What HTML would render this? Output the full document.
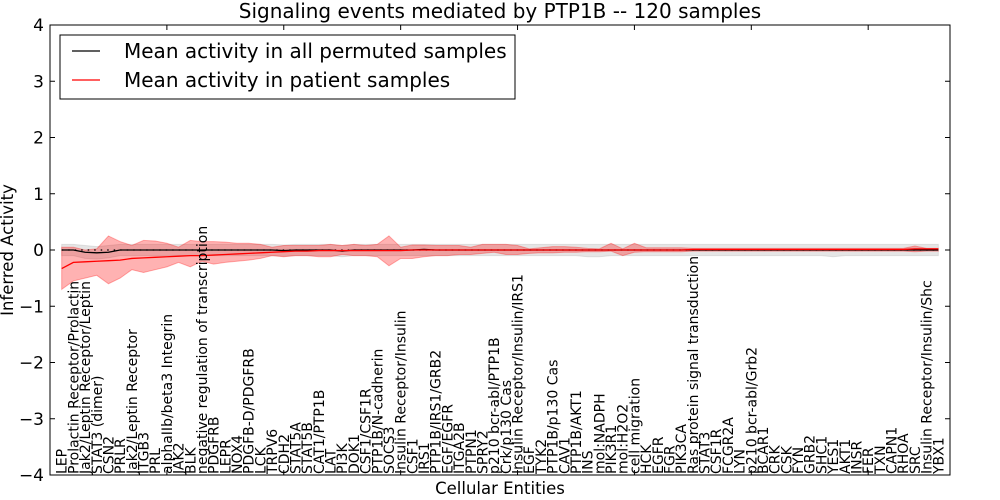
<!DOCTYPE html>
<html><head><meta charset="utf-8"><style>
body{margin:0;background:#fff;}
svg{display:block;font-family:"DejaVu Sans","Liberation Sans",sans-serif;}
</style></head><body>
<svg id="chart" width="1000" height="500">
<text x="500" y="18" text-anchor="middle" font-size="20">Signaling events mediated by PTP1B -- 120 samples</text>
<text x="500" y="494" text-anchor="middle" font-size="16.5">Cellular Entities</text>
<text transform="translate(13,250) rotate(-90)" text-anchor="middle" font-size="16.5">Inferred Activity</text>
<g id="plot"></g>
<rect x="50" y="25" width="900" height="450" fill="none" stroke="#000" stroke-width="1"/>
<g>
<rect x="60" y="35" width="455" height="64" fill="#fff" stroke="#000"/>
<line x1="72" y1="51" x2="100" y2="51" stroke="#000" stroke-width="1.2"/>
<text x="124" y="58" font-size="20">Mean activity in all permuted samples</text>
<line x1="72" y1="80" x2="100" y2="80" stroke="#f00" stroke-width="1.2"/>
<text x="124" y="87" font-size="20">Mean activity in patient samples</text>
</g>
</svg>
<script>
const categories=["LEP","Prolactin Receptor/Prolactin","Jak2/Leptin Receptor/Leptin","STAT3 (dimer)","CSN2","PRLR","Jak2/Leptin Receptor","ITGB3","PRL","alphaIIb/beta3 Integrin","JAK2","BLK","negative regulation of transcription","PDGFRB","LEPR","NOX4","PDGFB-D/PDGFRB","LCK","TRPV6","CDH2","STAT5A","STAT5B","CAT1/PTP1B","LAT","PI3K","DOK1","CSF1/CSF1R","PTP1B/N-cadherin","SOCS3","Insulin Receptor/Insulin","CSF1","IRS1","PTP1B/IRS1/GRB2","EGF/EGFR","ITGA2B","PTPN1","SPRY2","p210 bcr-abl/PTP1B","Crk/p130 Cas","Insulin Receptor/Insulin/IRS1","EGF","TYK2","PTP1B/p130 Cas","CAV1","PTP1B/AKT1","INS","mol:NADPH","PIK3R1","mol:H2O2","cell migration","HCK","EGFR","FGR","PIK3CA","Ras protein signal transduction","STAT3","CSF1R","FCGR2A","LYN","p210 bcr-abl/Grb2","BCAR1","CRK","CSK","FYN","GRB2","SHC1","YES1","AKT1","INSR","FER","TXN","CAPN1","RHOA","SRC","Insulin Receptor/Insulin/Shc","YBX1"];
const patientMean=[-0.33,-0.22,-0.21,-0.2,-0.19,-0.18,-0.15,-0.14,-0.13,-0.12,-0.11,-0.1,-0.1,-0.09,-0.08,-0.07,-0.06,-0.05,-0.04,-0.03,-0.02,-0.02,-0.01,-0.01,-0.01,-0.01,-0.01,-0.01,-0.01,-0.01,0,0,0,0,0,0,0,0,0,0,0,0,0,0,0,0,0,0,0,0,0,0,0,0,0.01,0.01,0.01,0.01,0.01,0.01,0.01,0.01,0.01,0.01,0.01,0.01,0.01,0.01,0.01,0.01,0.01,0.01,0.01,0.02,0.02,0.02];
const patientUpper=[0.05,0.05,0.0,0.02,0.25,0.15,0.08,0.17,0.16,0.12,0.05,0.17,0.15,0.15,0.14,0.12,0.12,0.1,0.05,0.08,0.08,0.08,0.08,0.1,0.08,0.1,0.08,0.1,0.25,0.05,0.09,0.09,0.08,0.08,0.08,0.05,0.1,0.1,0.1,0.08,0.02,0.04,0.06,0.06,0.05,0.03,0.02,0.12,0.02,0.12,0.04,0.04,0.04,0.04,0.03,0.03,0.03,0.03,0.03,0.03,0.03,0.03,0.03,0.03,0.03,0.03,0.03,0.03,0.03,0.03,0.03,0.03,0.03,0.07,0.03,0.03];
const patientLower=[-0.7,-0.55,-0.5,-0.45,-0.6,-0.5,-0.35,-0.4,-0.35,-0.3,-0.22,-0.3,-0.2,-0.25,-0.22,-0.2,-0.18,-0.15,-0.1,-0.12,-0.1,-0.1,-0.12,-0.12,-0.08,-0.1,-0.1,-0.12,-0.28,-0.15,-0.15,-0.12,-0.1,-0.1,-0.08,-0.08,-0.06,-0.04,-0.08,-0.08,-0.06,-0.05,-0.05,-0.04,-0.04,-0.03,-0.03,-0.02,-0.1,-0.04,-0.03,-0.03,-0.03,-0.03,-0.02,-0.02,-0.02,-0.02,-0.02,-0.02,-0.02,-0.02,-0.02,-0.02,-0.02,-0.02,-0.02,-0.02,-0.02,-0.02,-0.02,-0.02,-0.02,-0.03,-0.02,-0.02];
const permMean=[0,0,-0.04,-0.05,-0.04,0,0,0,0,0,0,0,0,0,0,0,0,0,0,-0.01,0,0,0,0,-0.02,0,0,0,0,0,0,0.01,0,0,0,0,0,0,0,0,0,0,0,0,0,0,0,0,0,0,0,0,0,0,0,0,0,0,0,0,0,0,0,0,0,0,0,0,0,0,0,0,0,0,0,0];
const permUpper=[0.1,0.1,0.08,0.06,0.08,0.1,0.1,0.1,0.1,0.1,0.1,0.1,0.1,0.1,0.1,0.1,0.1,0.1,0.1,0.09,0.1,0.1,0.1,0.1,0.08,0.1,0.1,0.1,0.1,0.1,0.1,0.1,0.1,0.1,0.1,0.1,0.1,0.1,0.1,0.1,0.1,0.1,0.1,0.1,0.1,0.1,0.1,0.1,0.1,0.1,0.1,0.1,0.1,0.1,0.1,0.1,0.1,0.1,0.1,0.1,0.1,0.1,0.1,0.1,0.1,0.1,0.1,0.1,0.1,0.1,0.1,0.1,0.1,0.1,0.1,0.1];
const permLower=[-0.1,-0.1,-0.15,-0.16,-0.14,-0.1,-0.1,-0.1,-0.1,-0.1,-0.1,-0.1,-0.1,-0.1,-0.1,-0.1,-0.1,-0.1,-0.1,-0.11,-0.1,-0.1,-0.1,-0.1,-0.12,-0.1,-0.1,-0.1,-0.1,-0.1,-0.1,-0.1,-0.1,-0.1,-0.1,-0.1,-0.1,-0.1,-0.1,-0.1,-0.1,-0.1,-0.1,-0.1,-0.1,-0.12,-0.12,-0.1,-0.1,-0.1,-0.1,-0.1,-0.1,-0.1,-0.1,-0.1,-0.1,-0.1,-0.1,-0.1,-0.1,-0.1,-0.1,-0.1,-0.1,-0.1,-0.12,-0.1,-0.1,-0.1,-0.1,-0.1,-0.1,-0.1,-0.1,-0.1];
const yTicks=[4,3,2,1,0,-1,-2,-3,-4];
const xTicks=[0,10,20,30,40,50,60,70];

const NS="http://www.w3.org/2000/svg";
const X=i=>50+(i)*900/77;
const Y=v=>250-v*56.25;
const g=document.getElementById('plot');
function mk(tag,attrs,parent){const e=document.createElementNS(NS,tag);for(const k in attrs)e.setAttribute(k,attrs[k]);(parent||g).appendChild(e);return e;}
function band(up,lo,fill,op,name){
  let d='';up.forEach((v,i)=>{d+=(i?'L':'M')+X(i+1)+','+Y(v);});
  for(let i=lo.length-1;i>=0;i--)d+='L'+X(i+1)+','+Y(lo[i]);
  const p=mk('path',{d:d+'Z',fill:fill,'fill-opacity':op,stroke:fill,'stroke-opacity':op});
  
  
}
function line(vals,color,name,extra){
  const pts=vals.map((v,i)=>X(i+1)+','+Y(v)).join(' ');
  const p=mk('polyline',Object.assign({points:pts,fill:'none',stroke:color,'stroke-width':1.3},extra||{}));
  
  
}
band(permUpper,permLower,'#aaaaaa',0.3,'permuted-band');
band(patientUpper,patientLower,'#ff0000',0.3,'patient-band');
line(permMean.map(()=>0),'#000','zero-reference-line',{'stroke-dasharray':'1.5,5','stroke-width':1.2});
line(permMean,'#000','permuted-mean-line');
line(patientMean,'#f00','patient-mean-line');
yTicks.forEach(v=>{
  const y=Y(v);
  const t1=mk('line',{x1:50,y1:y,x2:55,y2:y,stroke:'#000'});
  
  
  const t2=mk('line',{x1:945,y1:y,x2:950,y2:y,stroke:'#000'});
  
  
  const tx=mk('text',{x:44,y:y+6,'text-anchor':'end','font-size':17});
  tx.textContent=(v<0?'\u2212'+(-v):String(v));
  
  
});
xTicks.forEach(v=>{
  const x=X(v);
  const t=mk('line',{x1:x,y1:25,x2:x,y2:30,stroke:'#000'});
  
  
  const b=mk('line',{x1:x,y1:470,x2:x,y2:475,stroke:'#000'});
  
  
});
categories.forEach((c,i)=>{
  const x=X(i+1)+5;
  const t=mk('text',{transform:'translate('+x+',474) rotate(-90)','font-size':14});
  t.textContent=c;
  
  
});
</script>
</body></html>
